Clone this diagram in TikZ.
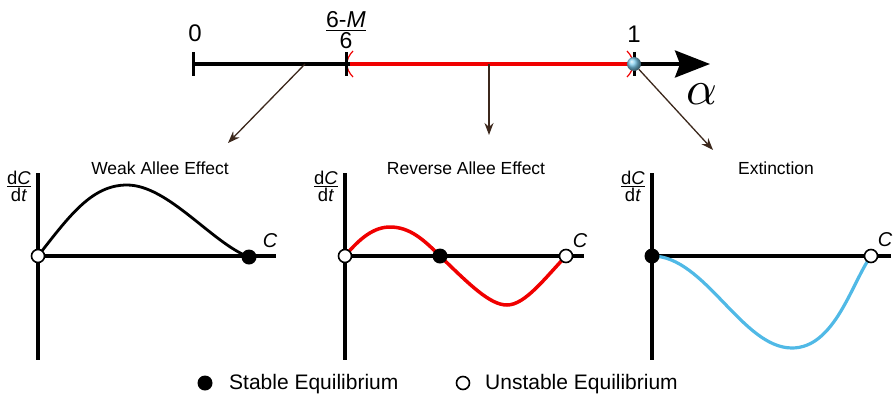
\documentclass[tikz,border=0pt]{standalone}
\usepackage{fontspec}
\setmainfont{Liberation Sans}
\usetikzlibrary{arrows.meta, positioning, shapes.geometric, calc}

\definecolor{linkbrown}{RGB}{60,40,28}
\definecolor{revred}{RGB}{240,0,0}
\definecolor{extblue}{RGB}{80,185,230}

\tikzset{
  axisline/.style={line width=3.5pt},
  tickline/.style={line width=3pt},
  stable/.style={circle, fill=black, inner sep=0pt, minimum size=15pt},
  unstable/.style={circle, draw=black, fill=white, line width=1.6pt, inner sep=0pt, minimum size=13pt},
  link/.style={draw=linkbrown, line width=1.3pt, -{Stealth[length=12pt,width=9pt]}},
  paneltitle/.style={font=\fontsize{17.5}{17.5}\selectfont},
  ylabel/.style={scale=1.85, inner sep=0pt},
  clabel/.style={font=\fontsize{20}{20}\selectfont\itshape, inner sep=0pt},
  ticklabel/.style={font=\fontsize{24}{24}\selectfont, inner sep=0pt},
  legendtext/.style={font=\fontsize{21}{21}\selectfont, anchor=west, inner sep=0pt}
}

\begin{document}
\begin{tikzpicture}[x=1pt, y=-1pt]
  \useasboundingbox (0,0) rectangle (893,397);

  % alpha axis
  \draw[axisline, -{Stealth[length=35pt,width=27pt,inset=5pt]}] (193,64) -- (710,64);
  \draw[revred, line width=3.5pt] (350,64) -- (630,64);
  \draw[revred, line width=1.2pt] (353,51) .. controls (345,59) and (345,69) .. (353,77);
  \draw[revred, line width=1.2pt] (627,51) .. controls (635,59) and (635,69) .. (627,77);
  \draw[tickline] (193,52) -- (193,76);
  \draw[tickline] (346,52) -- (346,76);
  \draw[tickline] (634,52) -- (634,76);
  \node[ticklabel] (zero) at (195,33) {0};
  \node[ticklabel] (one) at (634,34) {1};
  \node[scale=2.3, inner sep=0pt] (mfrac) at (346,30)
    {$\frac{\mbox{6-\textit{M}}}{\mbox{6}}$};
  \node[scale=4.8, inner sep=0pt] (alpha) at (702,94) {$\alpha$};
  \node[circle, ball color=extblue!75!white, inner sep=0pt, minimum size=14pt] (bluedot) at (634,64) {};

  % panel titles
  \node[paneltitle] (weak) at (160,168) {Weak Allee Effect};
  \node[paneltitle] (reverse) at (466,168) {Reverse Allee Effect};
  \node[paneltitle] (extinct) at (776,168) {Extinction};

  % connectors
  \coordinate (weakfrom) at (305,64);
  \coordinate (weakto) at (228,143);
  \coordinate (revfrom) at (489,64);
  \coordinate (revto) at (489,135);
  \coordinate (extto) at (713,150);
  \draw[link] (weakfrom) -- (weakto);
  \draw[link] (revfrom) -- (revto);
  \draw[link] (bluedot) -- (extto);

  % weak allee panel
  \draw[axisline] (38,173) -- (38,360);
  \draw[axisline] (38,256) -- (276,256);
  \node[ylabel] (dcdtA) at (19,186) {$\frac{\mbox{d\textit{C}}}{\mbox{d\textit{t}}}$};
  \node[clabel] (cA) at (270,241) {C};
  \coordinate (wa0) at (38,256);
  \coordinate (wa1) at (249,257);
  \draw[line width=2.8pt] (wa0) .. controls (70,215) and (92,185) .. (127,185)
    .. controls (168,185) and (212,243) .. (wa1);
  \node[unstable] (wa0dot) at (wa0) {};
  \node[stable] (wa1dot) at (wa1) {};

  % reverse allee panel
  \draw[axisline] (345,173) -- (345,360);
  \draw[axisline] (345,256) -- (584,256);
  \node[ylabel] (dcdtB) at (326,186) {$\frac{\mbox{d\textit{C}}}{\mbox{d\textit{t}}}$};
  \node[clabel] (cB) at (580,241) {C};
  \coordinate (ra0) at (345,256);
  \coordinate (ra1) at (440,256);
  \coordinate (ra2) at (566,256);
  \draw[revred, line width=3.5pt] (ra0) .. controls (360,238) and (374,227) .. (390,227)
    .. controls (410,227) and (424,240) .. (ra1)
    .. controls (470,285) and (490,305) .. (507,305)
    .. controls (525,305) and (545,278) .. (ra2);
  \node[unstable] (ra0dot) at (ra0) {};
  \node[stable] (ra1dot) at (ra1) {};
  \node[unstable] (ra2dot) at (ra2) {};

  % extinction panel
  \draw[axisline] (652,173) -- (652,360);
  \draw[axisline] (652,256) -- (891,256);
  \node[ylabel] (dcdtC) at (633,186) {$\frac{\mbox{d\textit{C}}}{\mbox{d\textit{t}}}$};
  \node[clabel] (cC) at (885,240) {C};
  \coordinate (ex0) at (652,256);
  \coordinate (ex1) at (871,256);
  \draw[extblue, line width=3.2pt] (ex0) .. controls (705,256) and (742,348) .. (792,348)
    .. controls (835,348) and (852,282) .. (ex1);
  \node[stable] (ex0dot) at (ex0) {};
  \node[unstable] (ex1dot) at (ex1) {};

  % legend
  \node[stable] (stablekey) at (205,383) {};
  \node[legendtext] (stabletext) at (229,384) {Stable Equilibrium};
  \node[unstable] (unstablekey) at (463,383) {};
  \node[legendtext] (unstabletext) at (485,384) {Unstable Equilibrium};
\end{tikzpicture}
\end{document}
